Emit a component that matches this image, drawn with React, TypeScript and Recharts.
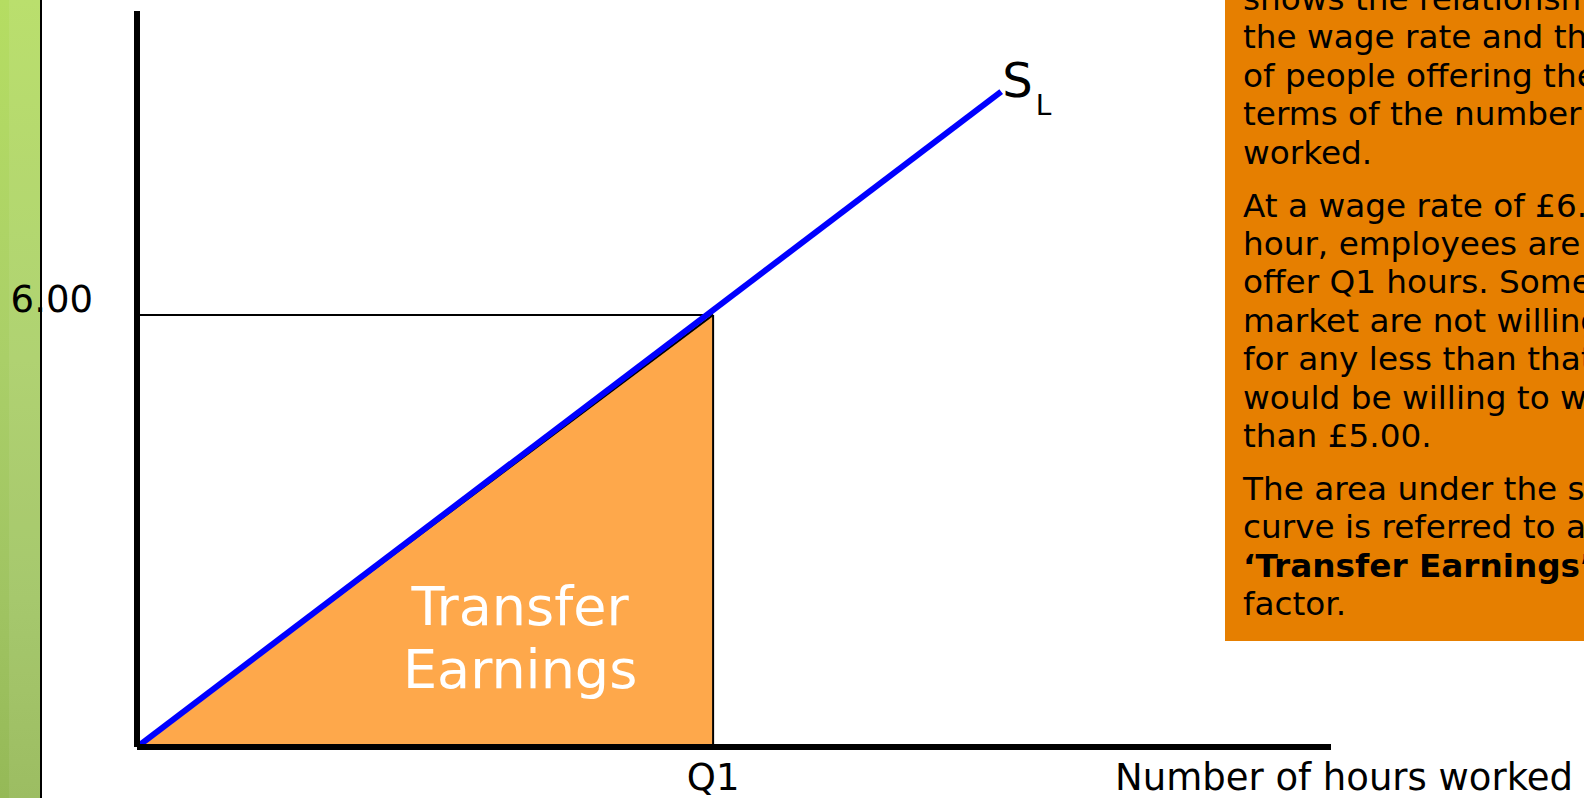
import {
  Area,
  ComposedChart,
  Line,
  ReferenceDot,
  ReferenceLine,
  XAxis,
  YAxis
} from "recharts";

// hours offered (arbitrary units) and wage rate (£)
const supplyHours = [0, 12];
const supplyWage = [0, 9.1];
const q1Hours = 8;
const q1Wage = 6;
const yTicks = [6];
const xTicks = [q1Hours];
const xTickLabels = ["Q1"];

const supplyData = supplyHours.map((q, i) => ({ q, w: supplyWage[i] }));
const transferData = [
  { q: 0, te: 0 },
  { q: q1Hours, te: q1Wage }
];

const font = "'DejaVu Sans', Verdana, sans-serif";

const paragraphs = [
  [
    "shows the relationship between",
    "the wage rate and the number",
    "of people offering their labour in",
    "terms of the number of hours",
    "worked."
  ],
  [
    "At a wage rate of £6.00 per",
    "hour, employees are willing to",
    "offer Q1 hours. Some in the",
    "market are not willing to work",
    "for any less than that, others",
    "would be willing to work for less",
    "than £5.00."
  ]
];

const YTick = ({ x, y, payload }: any) => (
  <text x={x} y={y} dy={-3} textAnchor="end" fontSize={37} fontFamily={font} fill="#000">
    {Number(payload.value).toFixed(2)}
  </text>
);

const XTick = ({ x, y, payload }: any) => (
  <text x={x} y={y} dy={43} textAnchor="middle" fontSize={37} fontFamily={font} fill="#000">
    {xTickLabels[xTicks.indexOf(payload.value)]}
  </text>
);

const SupplyLabel = ({ viewBox }: any) => (
  <text x={viewBox.x + 1} y={viewBox.y + 5} fontSize={48} fontFamily={font} fill="#000">
    <tspan>S</tspan>
    <tspan dx={3} dy={18} fontSize={28}>L</tspan>
  </text>
);

const TransferLabel = ({ viewBox }: any) => (
  <text x={viewBox.x} y={viewBox.y} textAnchor="middle" fontSize={54} fontFamily={font} fill="#fff">
    <tspan x={viewBox.x}>Transfer</tspan>
    <tspan x={viewBox.x} dy={63}>Earnings</tspan>
  </text>
);

export default function App() {
  return (
    <div
      style={{
        position: "absolute",
        left: 0,
        top: 0,
        width: 1584,
        height: 798,
        overflow: "hidden",
        background: "#fff",
        fontFamily: font
      }}
    >
      {/* green slide strip */}
      <div
        style={{
          position: "absolute",
          left: 0,
          top: 0,
          width: 40,
          height: 798,
          borderRight: "2px solid #000",
          background: "linear-gradient(180deg, #b5dd62 0%, #aacf68 45%, #a0c462 75%, #95b957 100%)"
        }}
      >
        <div
          style={{
            position: "absolute",
            left: 9,
            top: 0,
            width: 31,
            height: 798,
            background: "rgba(255,255,255,0.07)"
          }}
        />
      </div>

      {/* explanation box */}
      <div
        style={{
          position: "absolute",
          left: 1225,
          top: 0,
          width: 420,
          height: 641,
          background: "#e67f00",
          overflow: "hidden"
        }}
      >
        <div
          style={{
            position: "absolute",
            left: 18,
            top: -20,
            fontSize: 32.7,
            lineHeight: "38.4px",
            whiteSpace: "nowrap",
            color: "#000"
          }}
        >
          {paragraphs.map((lines, i) => (
            <div key={i} style={{ marginBottom: 14.6 }}>
              {lines.map((l) => (
                <div key={l}>{l}</div>
              ))}
            </div>
          ))}
          <div>
            <div>The area under the supply</div>
            <div>curve is referred to as the</div>
            <div>
              <b>‘Transfer Earnings’</b> of the
            </div>
            <div>factor.</div>
          </div>
        </div>
      </div>

      <div style={{ position: "absolute", left: 0, top: 0 }}>
        <ComposedChart
          width={1584}
          height={798}
          margin={{ top: 11, right: 253, bottom: 0, left: 0 }}
        >
          <XAxis
            type="number"
            dataKey="q"
            domain={[0, 16.58]}
            ticks={xTicks}
            allowDataOverflow
            axisLine={{ stroke: "#000", strokeWidth: 6 }}
            tickLine={false}
            tickSize={0}
            tickMargin={0}
            tick={<XTick />}
            height={51}
          />
          <YAxis
            type="number"
            domain={[0, 10.22]}
            ticks={yTicks}
            allowDataOverflow
            axisLine={{ stroke: "#000", strokeWidth: 6 }}
            tickLine={false}
            tickSize={0}
            tickMargin={44}
            tick={<YTick />}
            width={137}
          />
          <Area
            data={transferData}
            type="linear"
            dataKey="te"
            fill="#fea84b"
            fillOpacity={1}
            stroke="#000"
            strokeWidth={2}
            isAnimationActive={false}
          />
          <ReferenceLine
            segment={[
              { x: 0, y: q1Wage },
              { x: q1Hours, y: q1Wage }
            ]}
            stroke="#000"
            strokeWidth={2}
          />
          <ReferenceLine
            segment={[
              { x: q1Hours, y: 0 },
              { x: q1Hours, y: q1Wage }
            ]}
            stroke="#000"
            strokeWidth={2}
          />
          <Line
            data={supplyData}
            type="linear"
            dataKey="w"
            stroke="#0000ff"
            strokeWidth={6}
            dot={false}
            activeDot={false}
            isAnimationActive={false}
          />
          <ReferenceDot
            x={supplyHours[1]}
            y={supplyWage[1]}
            r={0}
            fill="none"
            stroke="none"
            label={<SupplyLabel />}
          />
          <ReferenceDot
            x={5.32}
            y={1.69}
            r={0}
            fill="none"
            stroke="none"
            label={<TransferLabel />}
          />
        </ComposedChart>
      </div>

      <div
        style={{
          position: "absolute",
          left: 1115,
          top: 759,
          fontSize: 37,
          lineHeight: 1,
          whiteSpace: "nowrap",
          color: "#000"
        }}
      >
        Number of hours worked
      </div>
    </div>
  );
}
